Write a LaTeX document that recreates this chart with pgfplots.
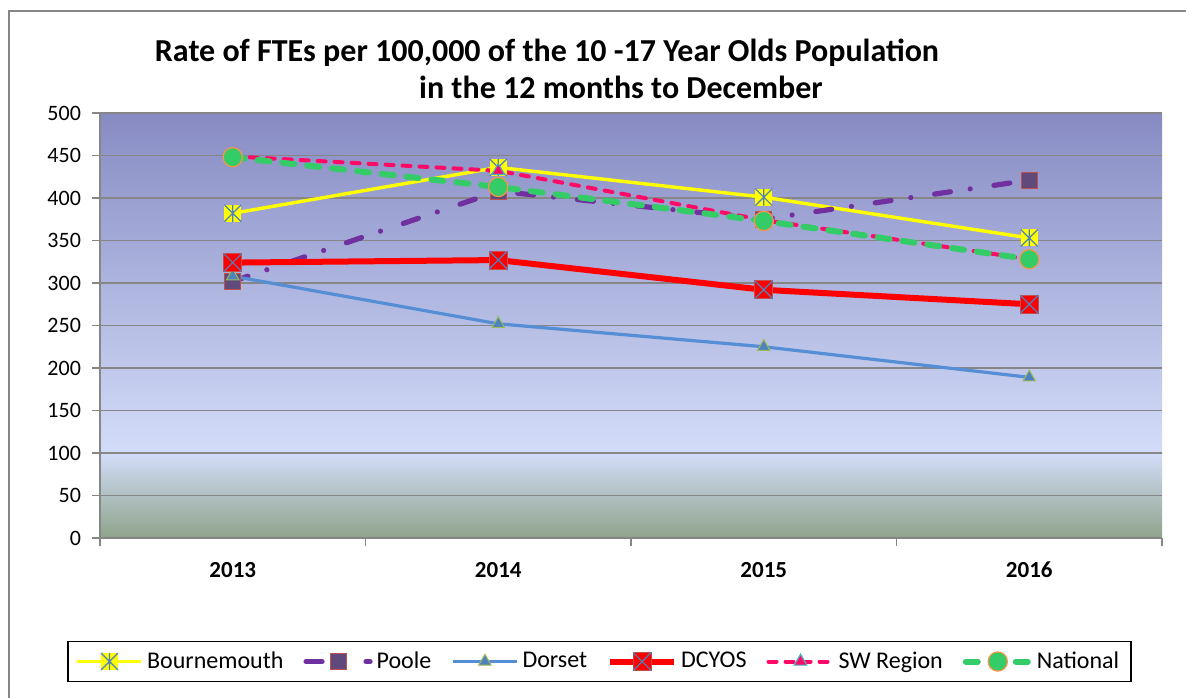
\documentclass[border=0pt]{standalone}
\usepackage{pgfplots}
\pgfplotsset{compat=1.18}
\usepackage{fontspec}
\setmainfont{Carlito}

\definecolor{bgtop}{HTML}{878BC3}
\definecolor{bglight}{HTML}{D3DDF9}
\definecolor{bgbot}{HTML}{8EA38A}
\definecolor{gridc}{HTML}{868686}
\definecolor{bmyellow}{HTML}{FFFF00}
\definecolor{markblue}{HTML}{4F81BD}
\definecolor{poolec}{HTML}{7030A0}
\definecolor{poolefill}{HTML}{604A7B}
\definecolor{pooleedge}{HTML}{C0504D}
\definecolor{dorsetc}{HTML}{558ED5}
\definecolor{dorsetfill}{HTML}{4F81BD}
\definecolor{dorsetedge}{HTML}{9BBB59}
\definecolor{dcyosc}{HTML}{FF0000}
\definecolor{swc}{HTML}{FF0A66}
\definecolor{swedge}{HTML}{4BACC6}
\definecolor{natc}{HTML}{33CC66}
\definecolor{natedge}{HTML}{F79646}

\pgfdeclareverticalshading{chartbg}{100bp}{color(0bp)=(bgbot); color(25bp)=(bgbot); color(35bp)=(bglight); color(75bp)=(bgtop); color(100bp)=(bgtop)}

\pgfdeclareplotmark{bmmark}{%
  \pgfsetdash{}{0pt}%
  \pgfsetfillcolor{bmyellow}%
  \pgfpathrectangle{\pgfqpoint{-\pgfplotmarksize}{-\pgfplotmarksize}}{\pgfqpoint{2\pgfplotmarksize}{2\pgfplotmarksize}}%
  \pgfusepathqfill
  \pgfsetstrokecolor{markblue}\pgfsetlinewidth{0.6pt}%
  \pgfpathmoveto{\pgfqpoint{-\pgfplotmarksize}{-\pgfplotmarksize}}\pgfpathlineto{\pgfqpoint{\pgfplotmarksize}{\pgfplotmarksize}}%
  \pgfpathmoveto{\pgfqpoint{-\pgfplotmarksize}{\pgfplotmarksize}}\pgfpathlineto{\pgfqpoint{\pgfplotmarksize}{-\pgfplotmarksize}}%
  \pgfpathmoveto{\pgfqpoint{0pt}{-\pgfplotmarksize}}\pgfpathlineto{\pgfqpoint{0pt}{\pgfplotmarksize}}%
  \pgfusepathqstroke
}
\pgfdeclareplotmark{dcmark}{%
  \pgfsetdash{}{0pt}%
  \pgfsetfillcolor{dcyosc}\pgfsetstrokecolor{pooleedge}\pgfsetlinewidth{0.4pt}%
  \pgfpathrectangle{\pgfqpoint{-\pgfplotmarksize}{-\pgfplotmarksize}}{\pgfqpoint{2\pgfplotmarksize}{2\pgfplotmarksize}}%
  \pgfusepathqfillstroke
  \pgfsetstrokecolor{markblue}\pgfsetlinewidth{0.6pt}%
  \pgfpathmoveto{\pgfqpoint{-\pgfplotmarksize}{-\pgfplotmarksize}}\pgfpathlineto{\pgfqpoint{\pgfplotmarksize}{\pgfplotmarksize}}%
  \pgfpathmoveto{\pgfqpoint{-\pgfplotmarksize}{\pgfplotmarksize}}\pgfpathlineto{\pgfqpoint{\pgfplotmarksize}{-\pgfplotmarksize}}%
  \pgfusepathqstroke
}

\begin{document}
\begin{tikzpicture}
\useasboundingbox (0pt,0pt) rectangle (593pt,348.5pt);
\draw[gridc, line width=0.8pt] (4.5pt,-10pt) -- (4.5pt,343pt) -- (610pt,343pt);
\node[font=\fontsize{16}{18}\selectfont\bfseries] at (273.5pt,322pt) {Rate of FTEs per 100,000 of the 10 -17 Year Olds Population};
\node[font=\fontsize{16}{18}\selectfont\bfseries] at (310.5pt,305pt) {in the 12 months to December};
\begin{axis}[
  at={(50pt,79.5pt)}, anchor=south west,
  scale only axis, width=531pt, height=212.5pt,
  xmin=-0.5, xmax=3.5, ymin=0, ymax=500,
  axis background/.style={shading=chartbg},
  axis x line=bottom, axis y line=left,
  axis line style={gridc, line width=0.8pt, -},
  xtick={0,1,2,3},
  xticklabels={2013,2014,2015,2016},
  major x tick style={draw=none},
  minor xtick={-0.5,0.5,1.5,2.5,3.5},
  minor x tick style={gridc, line width=0.8pt},
  minor tick length=4pt,
  ytick={0,50,...,500},
  major y tick style={gridc, line width=0.8pt},
  major tick length=4pt,
  tick align=outside,
  ymajorgrids,
  grid style={gridc, line width=0.8pt},
  /pgf/number format/assume math mode=true,
  yticklabel style={font=\fontsize{11}{13}\selectfont, xshift=-2pt},
  xticklabel style={font=\fontsize{11.5}{13}\selectfont\bfseries, yshift=-4.5pt},
  legend columns=6,
  legend style={at={(0.4703,-0.2906)}, anchor=center, draw=black, line width=0.8pt,
    font=\fontsize{12}{14}\selectfont, inner ysep=3pt, inner xsep=4pt,
    /tikz/every even column/.append style={column sep=8pt}},
  legend image code/.code={\draw[mark repeat=2,mark phase=2] plot coordinates {(0pt,0pt) (16pt,0pt) (32pt,0pt)};},
  clip=false,
]
\addplot[bmyellow, line width=1.7pt, mark=bmmark, mark size=4.25pt] coordinates {(0,382) (1,436) (2,401) (3,353)};
\addlegendentry{Bournemouth}
\addplot[poolec, line width=2.6pt, line cap=round, dash pattern=on 8pt off 10pt on 0pt off 12pt, mark=square*, mark size=4pt, mark options={solid, fill=poolefill, draw=pooleedge, line width=0.5pt}] coordinates {(0,302) (1,408) (2,375) (3,421)};
\addlegendentry{Poole}
\addplot[dorsetc, line width=1.6pt, mark=triangle*, mark size=3.6pt, mark options={solid, fill=dorsetfill, draw=dorsetedge, line width=0.5pt}] coordinates {(0,308) (1,252) (2,225) (3,189)};
\addlegendentry{Dorset}
\addplot[dcyosc, line width=3pt, mark=dcmark, mark size=4.5pt] coordinates {(0,324) (1,327) (2,292) (3,275)};
\addlegendentry{DCYOS}
\addplot[swc, line width=2pt, line cap=round, dash pattern=on 4pt off 4.5pt, mark=triangle*, mark size=3.6pt, mark options={solid, fill=swc, draw=swedge, line width=0.6pt}] coordinates {(0,449) (1,432) (2,374) (3,328)};
\addlegendentry{SW Region}
\addplot[natc, line width=3pt, line cap=round, dash pattern=on 6pt off 6.5pt, mark=*, mark size=4.8pt, mark options={solid, fill=natc, draw=natedge, line width=0.6pt}] coordinates {(0,448) (1,413) (2,373) (3,328)};
\addlegendentry{National}
\end{axis}
\end{tikzpicture}
\end{document}
